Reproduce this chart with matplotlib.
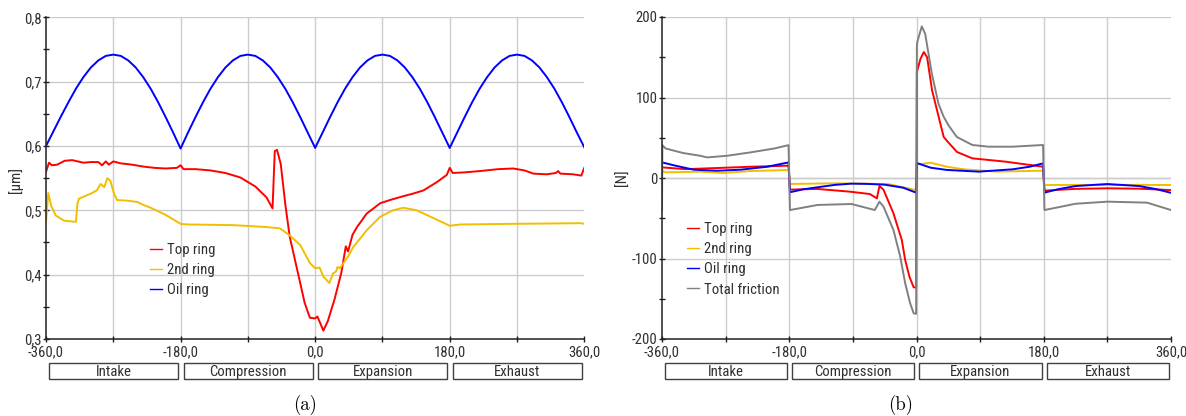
import matplotlib
matplotlib.use("Agg")
import matplotlib.pyplot as plt
from matplotlib import font_manager
from matplotlib.transforms import blended_transform_factory
from matplotlib.patches import Rectangle
from matplotlib.ticker import MultipleLocator, FuncFormatter

# ---------------- data: panel (a) oil-film thickness [um] ----------------
oil_a_deg = list(range(-360, 361, 10))
oil_a = [0.600, 0.623, 0.646, 0.668, 0.689, 0.707, 0.722, 0.733, 0.740, 0.742,
         0.740, 0.733, 0.722, 0.707, 0.689, 0.668, 0.645, 0.621,
         0.596, 0.621, 0.645, 0.668, 0.689, 0.707, 0.722, 0.733, 0.740, 0.742,
         0.740, 0.733, 0.722, 0.707, 0.689, 0.668, 0.645, 0.621,
         0.597, 0.621, 0.645, 0.668, 0.689, 0.707, 0.722, 0.733, 0.740, 0.742,
         0.740, 0.733, 0.722, 0.707, 0.689, 0.668, 0.645, 0.621,
         0.597, 0.621, 0.645, 0.668, 0.689, 0.707, 0.722, 0.733, 0.740, 0.742,
         0.740, 0.733, 0.722, 0.707, 0.689, 0.668, 0.645, 0.621, 0.598]

top_a_deg = [-360, -356, -352, -345, -335, -325, -310, -300, -290, -285, -280, -276,
             -270, -260, -245, -230, -215, -200, -185, -180, -176, -160, -140, -120,
             -100, -80, -65, -57, -54, -51, -46, -40, -34, -27, -20, -14, -7, 0, 3,
             11, 17, 26, 35, 41, 44, 50, 56, 69, 87, 100, 115, 131, 145, 163, 176,
             180, 184, 200, 220, 245, 265, 280, 292, 310, 322, 325, 328, 345, 356, 360]
top_a = [0.560, 0.574, 0.570, 0.571, 0.577, 0.578, 0.574, 0.575, 0.575, 0.570, 0.576, 0.571,
         0.576, 0.573, 0.571, 0.568, 0.566, 0.565, 0.566, 0.570, 0.564, 0.564, 0.562, 0.558,
         0.551, 0.537, 0.520, 0.503, 0.592, 0.594, 0.572, 0.510, 0.459, 0.423, 0.387, 0.356,
         0.333, 0.332, 0.335, 0.313, 0.328, 0.362, 0.403, 0.444, 0.436, 0.462, 0.474, 0.495,
         0.511, 0.516, 0.521, 0.526, 0.531, 0.544, 0.555, 0.566, 0.558, 0.559, 0.561, 0.564,
         0.565, 0.562, 0.557, 0.556, 0.558, 0.561, 0.557, 0.556, 0.554, 0.566]

sec_a_deg = [-360, -357, -353, -347, -336, -320, -318, -316, -300, -292, -287, -282,
             -278, -274, -269, -265, -251, -238, -229, -220, -200, -180, -170, -110,
             -65, -47, -34, -20, -7, 0, 6, 11, 19, 24, 28, 30, 33, 44, 51, 69, 87,
             104, 118, 136, 158, 180, 194, 265, 355, 360]
sec_a = [0.482, 0.527, 0.507, 0.492, 0.484, 0.482, 0.510, 0.518, 0.526, 0.531, 0.541, 0.536,
         0.550, 0.546, 0.526, 0.516, 0.515, 0.513, 0.508, 0.504, 0.493, 0.479, 0.478, 0.477,
         0.474, 0.472, 0.461, 0.446, 0.418, 0.410, 0.411, 0.397, 0.387, 0.402, 0.405, 0.412,
         0.410, 0.428, 0.443, 0.469, 0.490, 0.500, 0.504, 0.500, 0.488, 0.476, 0.478, 0.479,
         0.480, 0.479]

# ---------------- data: panel (b) friction force [N] ----------------
top_b_deg = [-360, -327, -282, -234, -181, -179, -140, -94, -66, -56, -52.4, -46.7, -32.6,
             -20.8, -16, -10, -4, -0.5, 0.5, 5.6, 10.3, 15, 22, 31.4, 38.5, 43.2, 57.3, 79,
             126, 179, 181, 225, 270, 315, 360]
top_b = [13.2, 11, 12.4, 14, 15.3, -14.4, -13.6, -17, -19.9, -25.3, -9.9, -14.5, -43.9,
         -77, -101.9, -122.6, -135.8, -136, 131.7, 148, 156.5, 150, 109, 75.8, 51, 46, 32.3,
         24.4, 20.3, 14, -15.7, -13.5, -12.8, -13.3, -15]

sec_b_deg = [-360, -355, -306, -273, -234, -181, -179, -116, -40, -0.5, 0.5, 20, 43, 67, 114,
             179, 181, 270, 360]
sec_b = [9, 7, 7.8, 6.2, 8.7, 9.9, -7.4, -6.6, -7.5, -15, 16.8, 19, 14, 10.8, 7.9,
         9.1, -8.7, -8.5, -8.7]

oil_b_deg = [-360, -341, -315, -282, -249, -211, -181, -179, -160, -140, -115, -92, -70,
             -45, -19, -0.5, 0.5, 20, 43, 88, 136, 160, 179, 181, 200, 225, 270, 315, 340, 359]
oil_b = [19.4, 15.3, 10.3, 9, 10.3, 14, 19.4, -17.7, -14, -11.5, -8.5, -7, -7.3,
         -8.3, -12, -18.2, 18.6, 12.8, 10, 7.9, 10.8, 14, 18.2, -18.2, -14, -10, -7.5,
         -10, -14, -18.2]

tot_b_deg = [-360, -359.5, -355, -330, -306, -296, -268, -235, -201, -181, -179, -140, -92,
             -59, -52.4, -46.7, -32.6, -23, -16, -9, -4, -0.5, 0.5, 1.1, 7.5, 12.3, 21.7,
             31.1, 38.2, 45.3, 57, 79, 102, 136, 179, 181, 225, 270, 326, 360]
tot_b = [-40, 40.8, 36.7, 31, 27.6, 25.6, 27.6, 31.8, 36.7, 40.8, -39.8, -33.5, -32.3,
         -39.8, -29.4, -35.6, -64.6, -97.7, -130.8, -155.7, -168.1, -168.7, 162.7, 169,
         188.4, 179, 129.6, 92.3, 76.5, 65.4, 51, 41, 38.9, 38.9, 41, -39.8, -32, -29.4,
         -30.6, -39.8]

phases = ["Intake", "Compression", "Expansion", "Exhaust"]
phase_start = [-360, -180, 0, 180]
labels_a = ["Top ring", "2nd ring", "Oil ring"]
labels_b = ["Top ring", "2nd ring", "Oil ring", "Total friction"]

RED, YEL, BLUE, GRAY = "#ff0000", "#f0c000", "#0000ff", "#808080"

# ---------------- font choice: a narrow sans if one is installed ----------------
_avail = {(f.name, f.stretch) for f in font_manager.fontManager.ttflist}
_names = {n for n, _ in _avail}
FSTRETCH = "normal"
if "Liberation Sans Narrow" in _names:
    FAMILY, FS = "Liberation Sans Narrow", 10.5
elif "Roboto Condensed" in _names:
    FAMILY, FS = "Roboto Condensed", 10.6
elif any(n == "DejaVu Sans" and s == "condensed" for n, s in _avail):
    FAMILY, FS, FSTRETCH = "DejaVu Sans", 9.5, "condensed"
elif "Liberation Sans" in _names:
    FAMILY, FS = "Liberation Sans", 9.3
else:
    FAMILY, FS = "DejaVu Sans", 8.5

# ---------------- figure ----------------
W, H = 1186, 416
plt.rcParams["font.family"] = [FAMILY, "DejaVu Sans"]
plt.rcParams["font.stretch"] = FSTRETCH
fig = plt.figure(figsize=(W / 100, H / 100), dpi=100)

def px_axes(l, t, r, b):
    return fig.add_axes([l / W, 1 - b / H, (r - l) / W, (b - t) / H])

axA = px_axes(46, 17.3, 584.3, 339)
axB = px_axes(662, 17, 1171, 339)

TXT = "#303030"

def xfmt(v, pos):
    if abs(v) < 1e-9:
        return "0,0"
    if abs(v) % 180 == 0:
        return f"{v:.1f}".replace(".", ",")
    return ""

def style(ax, ylim, ymaj, ymin, yfmt):
    ax.set_xlim(-360, 360)
    ax.set_ylim(*ylim)
    for s in ("top", "right"):
        ax.spines[s].set_visible(False)
    for s in ("left", "bottom"):
        ax.spines[s].set_color("#202020")
        ax.spines[s].set_linewidth(1.1)
    ax.xaxis.set_major_locator(MultipleLocator(90))
    ax.xaxis.set_major_formatter(FuncFormatter(xfmt))
    ax.yaxis.set_major_locator(MultipleLocator(ymaj))
    ax.yaxis.set_minor_locator(MultipleLocator(ymin))
    ax.yaxis.set_major_formatter(FuncFormatter(yfmt))
    ax.tick_params(axis="both", which="both", direction="inout", length=4, width=1,
                   color="#202020", labelsize=FS, labelcolor=TXT)
    ax.tick_params(axis="x", pad=2.5)
    ax.tick_params(axis="y", pad=1.2)
    for xv in (-270, -180, -90, 0, 90, 180, 270):
        ax.axvline(xv, color="#cccccc", lw=1, zorder=0)
    y = ylim[0] + ymaj
    while y <= ylim[1] + 1e-9:
        ax.axhline(y, color="#cccccc", lw=1, zorder=0)
        y += ymaj
    tr = blended_transform_factory(ax.transData, ax.transAxes)
    bh = ax.get_position().height * H
    y_top = -24 / bh
    y_bot = -40 / bh
    for name, st in zip(phases, phase_start):
        x0, x1 = st + 4, st + 180 - 3
        ax.add_patch(Rectangle((x0, y_bot), x1 - x0, y_top - y_bot, transform=tr,
                               facecolor="white", edgecolor="#404040", lw=1,
                               clip_on=False))
        ax.text((x0 + x1) / 2, (y_top + y_bot) / 2 - 0.003, name, transform=tr,
                ha="center", va="center", fontsize=FS, color=TXT, clip_on=False)

style(axA, (0.3, 0.8), 0.1, 0.05, lambda v, p: f"{v:.1f}".replace(".", ","))
style(axB, (-200, 200), 100, 50, lambda v, p: f"{v:.0f}")

LW = 1.4
axA.plot(top_a_deg, top_a, color=RED, lw=LW, label=labels_a[0])
axA.plot(sec_a_deg, sec_a, color=YEL, lw=LW, label=labels_a[1])
axA.plot(oil_a_deg, oil_a, color=BLUE, lw=LW, label=labels_a[2])

axB.plot(top_b_deg, top_b, color=RED, lw=LW, label=labels_b[0])
axB.plot(sec_b_deg, sec_b, color=YEL, lw=LW, label=labels_b[1])
axB.plot(oil_b_deg, oil_b, color=BLUE, lw=LW, label=labels_b[2])
axB.plot(tot_b_deg, tot_b, color=GRAY, lw=LW, label=labels_b[3])

for ax in (axA, axB):
    ax.axhline(0, color="#cccccc", lw=1, zorder=0)

legA = axA.legend(loc="upper left", bbox_to_anchor=(150 / W, 1 - 243 / H),
                  bbox_transform=fig.transFigure, frameon=False, fontsize=FS,
                  handlelength=0.8, handletextpad=0.35, labelspacing=0.42,
                  borderpad=0, borderaxespad=0)
legB = axB.legend(loc="upper left", bbox_to_anchor=(687 / W, 1 - 222 / H),
                  bbox_transform=fig.transFigure, frameon=False, fontsize=FS,
                  handlelength=0.8, handletextpad=0.35, labelspacing=0.42,
                  borderpad=0, borderaxespad=0)
for leg in (legA, legB):
    for t in leg.get_texts():
        t.set_color(TXT)
    for h in leg.get_lines():
        h.set_linewidth(1.0)

fig.text(16 / W, 1 - 180 / H, "[µm]", rotation=90, ha="center", va="center",
         fontsize=FS, color=TXT)
fig.text(623 / W, 1 - 178 / H, "[N]", rotation=90, ha="center", va="center",
         fontsize=FS, color=TXT)

fig.text(305 / W, 1 - 405 / H, "(a)", ha="center", va="center", fontsize=13.5,
         family="cmr10", stretch="normal", color="black")
fig.text(901 / W, 1 - 405 / H, "(b)", ha="center", va="center", fontsize=13.5,
         family="cmr10", stretch="normal", color="black")

fig.savefig("out.png", dpi=100, facecolor="white")
